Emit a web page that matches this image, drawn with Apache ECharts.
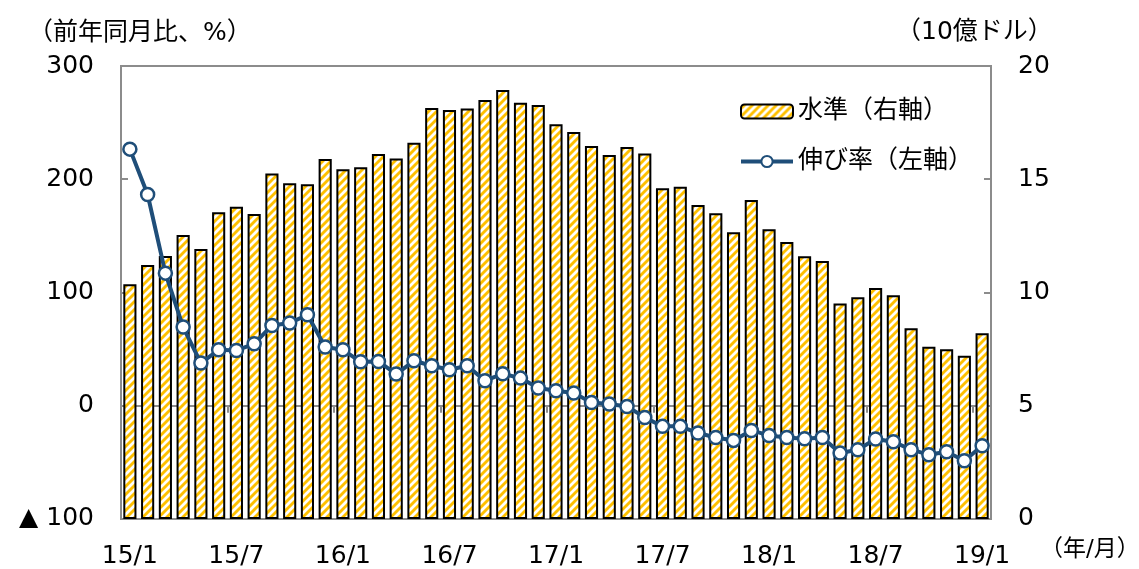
<!DOCTYPE html>
<html>
<head>
<meta charset="utf-8">
<script src="https://cdn.jsdelivr.net/npm/echarts@6/dist/echarts.min.js"></script>
<style>
  html, body { margin: 0; padding: 0; background: #fff; }
  #chart { width: 1139px; height: 569px; }
</style>
</head>
<body>
<div id="chart"></div>
<script>
// 年/月
const months = [
  '15/1', '15/2', '15/3', '15/4', '15/5', '15/6', '15/7', '15/8', '15/9', '15/10', '15/11', '15/12',
  '16/1', '16/2', '16/3', '16/4', '16/5', '16/6', '16/7', '16/8', '16/9', '16/10', '16/11', '16/12',
  '17/1', '17/2', '17/3', '17/4', '17/5', '17/6', '17/7', '17/8', '17/9', '17/10', '17/11', '17/12',
  '18/1', '18/2', '18/3', '18/4', '18/5', '18/6', '18/7', '18/8', '18/9', '18/10', '18/11', '18/12',
  '19/1'
]
// 水準（10億ドル、右軸）
const levelValues = [
  10.36, 11.21, 11.61, 12.54, 11.92, 13.54, 13.79, 13.47, 15.25, 14.82, 14.78, 15.89,
  15.44, 15.53, 16.11, 15.92, 16.61, 18.15, 18.06, 18.12, 18.50, 18.94, 18.38, 18.28,
  17.43, 17.09, 16.47, 16.07, 16.42, 16.14, 14.60, 14.67, 13.86, 13.50, 12.66, 14.08,
  12.79, 12.23, 11.60, 11.39, 9.51, 9.79, 10.20, 9.88, 8.42, 7.61, 7.49, 7.21,
  8.20
]
// 伸び率（前年同月比、%、左軸）
const growthValues = [
  226.6, 186.5, 117.1, 69.5, 37.7, 49.4, 48.8, 54.7, 70.9, 73.0, 80.3, 51.8,
  49.4, 38.8, 39.1, 28.0, 39.7, 35.3, 31.8, 35.3, 22.1, 28.2, 24.4, 15.6,
  13.2, 11.2, 2.9, 1.5, -0.6, -10.3, -18.2, -18.2, -24.1, -28.0, -30.6, -21.8,
  -26.2, -28.0, -29.1, -28.0, -41.8, -38.8, -29.4, -31.8, -38.8, -43.2, -40.6, -48.5,
  -35.3
]

const FONT = "'DejaVu Sans', 'Noto Sans CJK JP', sans-serif"
const GRAY = '#8c8c8c'
const BLUE = '#1f4e79'

// 斜線ハッチ（黄色×白）
function makeHatch () {
  const s = 8
  const c = document.createElement('canvas')
  c.width = s
  c.height = s
  const ctx = c.getContext('2d')
  ctx.fillStyle = '#ffc000'
  ctx.fillRect(0, 0, s, s)
  ctx.strokeStyle = '#ffffff'
  ctx.lineWidth = 2.8
  ctx.beginPath()
  ctx.moveTo(-s, s); ctx.lineTo(s, -s)
  ctx.moveTo(0, s); ctx.lineTo(s, 0)
  ctx.moveTo(0, 2 * s); ctx.lineTo(2 * s, 0)
  ctx.stroke()
  return c
}

const chart = echarts.init(document.getElementById('chart'))

const option = {
  animation: false,
  textStyle: { fontFamily: FONT },
  grid: {
    left: 121, right: 148, top: 66, bottom: 50,
    show: true, borderColor: GRAY, borderWidth: 2
  },
  legend: {
    orient: 'vertical',
    left: 734,
    top: 94,
    itemWidth: 52,
    itemHeight: 14,
    itemGap: 25,
    textStyle: { fontSize: 25, color: '#000', fontFamily: FONT },
    data: [
      { name: '水準（右軸）' },
      { name: '伸び率（左軸）', lineStyle: { width: 4, color: BLUE } }
    ]
  },
  graphic: [
    { type: 'text', left: 28, top: 21, style: { text: '（前年同月比、%）', fontSize: 25, fill: '#000', fontFamily: FONT } },
    { type: 'text', left: 896, top: 20, style: { text: '（10億ドル）', fontSize: 25, fill: '#000', fontFamily: FONT } },
    { type: 'text', left: 1040, top: 539, style: { text: '（年/月）', fontSize: 23, fill: '#000', fontFamily: FONT } }
  ],
  xAxis: [
    {
      type: 'category',
      data: months,
      position: 'bottom',
      axisLine: { onZero: false, lineStyle: { color: GRAY, width: 2 } },
      axisTick: { show: false },
      axisLabel: { interval: 5, margin: 25, fontSize: 25, color: '#000' }
    },
    {
      type: 'category',
      data: months,
      position: 'top',
      axisLine: { onZero: true, onZeroAxisIndex: 0, lineStyle: { color: GRAY, width: 2 } },
      axisTick: { show: true, inside: true, interval: 5, length: 7, lineStyle: { color: GRAY, width: 2 } },
      axisLabel: { show: false }
    }
  ],
  yAxis: [
    {
      type: 'value',
      min: -100, max: 300, interval: 100,
      axisLine: { show: true, lineStyle: { color: GRAY, width: 2 } },
      axisTick: { show: true, inside: true, length: 7, lineStyle: { color: GRAY, width: 2 } },
      splitLine: { show: false },
      axisLabel: {
        margin: 27, fontSize: 25, color: '#000',
        formatter: v => (v < 0 ? '▲ ' + (-v) : String(v))
      }
    },
    {
      type: 'value',
      min: 0, max: 20, interval: 5,
      axisLine: { show: true, lineStyle: { color: GRAY, width: 2 } },
      axisTick: { show: true, inside: true, length: 7, lineStyle: { color: GRAY, width: 2 } },
      splitLine: { show: false },
      axisLabel: { margin: 27, fontSize: 25, color: '#000' }
    }
  ],
  series: [
    {
      name: '水準（右軸）',
      type: 'bar',
      yAxisIndex: 1,
      barWidth: '74%',
      data: levelValues,
      itemStyle: {
        color: { image: makeHatch(), repeat: 'repeat' },
        borderColor: '#000',
        borderWidth: 2
      }
    },
    {
      name: '伸び率（左軸）',
      type: 'line',
      yAxisIndex: 0,
      data: growthValues,
      symbol: 'circle',
      symbolSize: 13,
      showAllSymbol: true,
      lineStyle: { color: BLUE, width: 4 },
      itemStyle: { color: '#fff', borderColor: BLUE, borderWidth: 2.5 },
      z: 5
    }
  ]
}
chart.setOption(option)
</script>
</body>
</html>
